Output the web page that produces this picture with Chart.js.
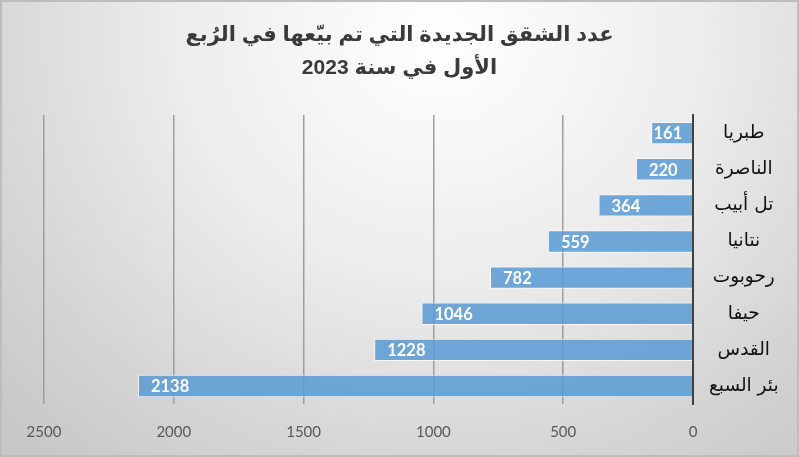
<!DOCTYPE html>
<html lang="ar">
<head>
<meta charset="utf-8">
<title>عدد الشقق الجديدة</title>
<script src="https://cdn.jsdelivr.net/npm/chart.js@4.4.1/dist/chart.umd.min.js"></script>
<style>
    html, body { margin: 0; padding: 0; background: #fff; }
    #wrap {
        position: relative;
        width: 799px;
        height: 457px;
        background: radial-gradient(ellipse 75% 120% at 55% 8%, #ffffff 0%, #ececec 45%, #d4d4d4 80%, #c8c8c8 100%);
        box-shadow: inset 0 0 0 2px #bdbdbd;
    }
</style>
</head>
<body>
<div id="wrap"><canvas id="chart"></canvas></div>
<script>
// ======================
// بيانات الرسم
// ======================

const cities = ['طبريا', 'الناصرة', 'تل أبيب', 'نتانيا', 'رحوبوت', 'حيفا', 'القدس', 'بئر السبع'];
const apartments = [161, 220, 364, 559, 782, 1046, 1228, 2138];
const titleLines = ['عدد الشقق الجديدة التي تم بيّعها في الرُبع', 'الأول في سنة 2023'];
const xTicks = [0, 500, 1000, 1500, 2000, 2500];

// ======================
// أرقام داخل الأعمدة
// ======================

const barLabels = {
    id: 'barLabels',
    afterDatasetsDraw(chart) {
        const ctx = chart.ctx;
        const meta = chart.getDatasetMeta(0);
        ctx.save();
        ctx.font = 'bold 16.5px Lato, "DejaVu Sans", sans-serif';
        ctx.fillStyle = '#ffffff';
        ctx.textAlign = 'left';
        ctx.textBaseline = 'middle';
        meta.data.forEach((bar, i) => {
            const text = String(apartments[i]);
            const w = ctx.measureText(text).width;
            let x = bar.x + 13;
            if (x + w > bar.base - 10) x = bar.base - 10 - w;
            ctx.fillText(text, x, bar.y + 1);
        });
        ctx.restore();
    }
};

new Chart(document.getElementById('chart'), {
    type: 'bar',
    data: {
        labels: cities,
        datasets: [{
            data: apartments,
            backgroundColor: 'rgba(91, 155, 213, 0.86)',
            borderColor: 'rgba(255, 255, 255, 0.75)',
            borderWidth: 1,
            barPercentage: 0.62,
            categoryPercentage: 1
        }]
    },
    options: {
        indexAxis: 'y',
        responsive: true,
        maintainAspectRatio: false,
        animation: false,
        layout: { padding: { left: 8, right: 8, top: 0, bottom: 0 } },
        plugins: {
            legend: { display: false },
            tooltip: { enabled: false },
            title: {
                display: true,
                text: titleLines,
                color: '#3a3a3a',
                font: { family: '"Liberation Sans", "DejaVu Sans", sans-serif', size: 21, weight: 'bold', lineHeight: 1.55 },
                padding: { top: 19, bottom: 31 }
            }
        },
        scales: {
            x: {
                reverse: true,
                min: 0,
                max: 2500,
                afterBuildTicks(axis) { axis.ticks = xTicks.map(v => ({ value: v })); },
                afterFit(axis) { axis.height = 53; },
                grid: { color: '#9e9e9e', lineWidth: 1.5, drawTicks: false },
                border: { display: false },
                ticks: {
                    color: '#595959',
                    padding: 19,
                    callback: v => String(v),
                    font: { family: 'Lato, "Open Sans", sans-serif', size: 15 }
                }
            },
            y: {
                position: 'right',
                grid: { display: false, drawTicks: false },
                border: { display: true, color: '#404040', width: 2 },
                afterFit(axis) { axis.width = 98; },
                ticks: {
                    crossAlign: 'center',
                    padding: 16,
                    color: '#111111',
                    font: { family: '"DejaVu Sans", sans-serif', size: 18.5 }
                }
            },
            // محور فارغ على اليسار لحجز المسافة فقط
            yLeft: {
                type: 'category',
                position: 'left',
                labels: cities,
                grid: { display: false, drawTicks: false },
                border: { display: false },
                ticks: { display: false },
                afterFit(axis) { axis.width = 36; }
            }
        }
    },
    plugins: [barLabels]
});
</script>
</body>
</html>
